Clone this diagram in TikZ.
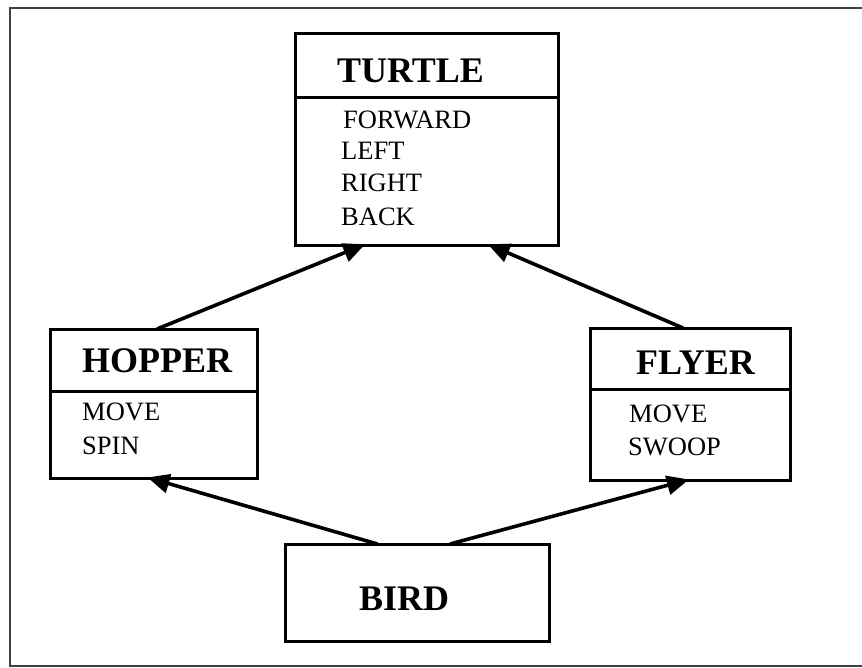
\documentclass[tikz,border=0pt]{standalone}
\usepackage{fontspec}
\setmainfont{Liberation Serif}
\usetikzlibrary{arrows.meta,calc}

\tikzset{
  classbox/.style={draw=black, line width=3pt, rectangle, inner sep=0pt, outer sep=0pt, anchor=north west},
  divider/.style={draw=black, line width=3pt},
  title/.style={anchor=base west, inner sep=0pt, font=\fontsize{36}{36}\selectfont\bfseries},
  member/.style={anchor=base west, inner sep=0pt, font=\fontsize{26.5}{26.5}\selectfont},
  inherits/.style={draw=black, line width=3.6pt, -{Triangle[length=22pt,width=19pt]}, shorten >=-2pt},
  frame/.style={draw=black!75, line width=1.4pt}
}

\begin{document}
\begin{tikzpicture}[x=1pt,y=-1pt]
\useasboundingbox (0,0) rectangle (862,667);

% page frame
\draw[frame] (862,8) -- (10,8) -- (10,666) -- (862,666);

% class boxes
\node[classbox, minimum width=263pt, minimum height=212pt] (turtle) at (295,33) {};
\node[classbox, minimum width=207pt, minimum height=149pt] (hopper) at (50,329) {};
\node[classbox, minimum width=200pt, minimum height=152pt] (flyer)  at (590,328) {};
\node[classbox, minimum width=264pt, minimum height=97pt]  (bird)   at (285,544) {};

% title separators
\draw[divider] (turtle.west |- 0,97)  -- (turtle.east |- 0,97);
\draw[divider] (hopper.west |- 0,391) -- (hopper.east |- 0,391);
\draw[divider] (flyer.west |- 0,389)  -- (flyer.east |- 0,389);

% TURTLE
\node[title]  (tname) at (337,82)  {TURTLE};
\node[member] (tfwd)  at (343,128) {FORWARD};
\node[member] (tleft) at (341,159) {LEFT};
\node[member] (tright) at (341,191) {RIGHT};
\node[member] (tback) at (341,225) {BACK};

% HOPPER
\node[title]  (hname) at (82,372)  {HOPPER};
\node[member] (hmove) at (82,420)  {MOVE};
\node[member] (hspin) at (82,454)  {SPIN};

% FLYER
\node[title]  (fname)  at (636,374) {FLYER};
\node[member] (fmove)  at (629,422) {MOVE};
\node[member] (fswoop) at (628,455) {SWOOP};

% BIRD
\node[title]  (bname) at (359,610) {BIRD};

% inheritance arrows
\draw[inherits] ($(hopper.north west)!0.517!(hopper.north east)$) -- ($(turtle.south west)!0.26!(turtle.south east)$);
\draw[inherits] ($(flyer.north west)!0.465!(flyer.north east)$)   -- ($(turtle.south west)!0.74!(turtle.south east)$);
\draw[inherits] ($(bird.north west)!0.35!(bird.north east)$)      -- ($(hopper.south west)!0.48!(hopper.south east)$);
\draw[inherits] ($(bird.north west)!0.625!(bird.north east)$)     -- ($(flyer.south west)!0.485!(flyer.south east)$);
\end{tikzpicture}
\end{document}
